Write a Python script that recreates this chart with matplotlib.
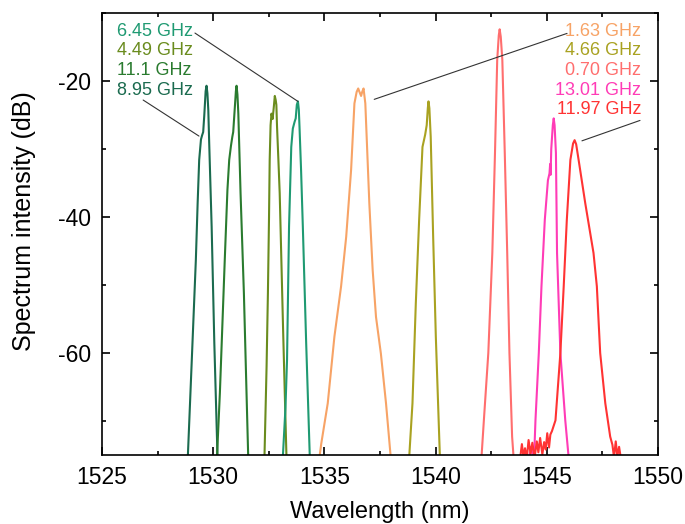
import matplotlib
matplotlib.use("Agg")
import matplotlib.pyplot as plt
from matplotlib.ticker import MultipleLocator

plt.rcParams['font.family'] = ['Liberation Sans', 'DejaVu Sans']
plt.rcParams['axes.unicode_minus'] = False

# Spectra: wavelength (nm) and intensity (dB) for each channel
wl_895 = [1528.85, 1529.05, 1529.22, 1529.30, 1529.37, 1529.45, 1529.50, 1529.55, 1529.60,
          1529.66, 1529.70, 1529.74, 1529.78, 1529.82, 1529.93, 1530.05, 1530.20]
db_895 = [-76, -60, -46.3, -38, -31.6, -28.6, -28.0, -27.5, -25.0,
          -21.5, -20.7, -21.8, -24.3, -29.1, -41.4, -58.5, -76]

wl_111 = [1530.16, 1530.30, 1530.52, 1530.64, 1530.72, 1530.80, 1530.86, 1530.90, 1530.96,
          1531.02, 1531.05, 1531.09, 1531.13, 1531.23, 1531.38, 1531.58]
db_111 = [-76, -65.9, -46.3, -36, -31.6, -29.5, -28.2, -27.5, -24.5,
          -21.5, -20.7, -22.0, -24.8, -36.5, -51.2, -76]

wl_449 = [1532.30, 1532.40, 1532.46, 1532.51, 1532.54, 1532.58, 1532.62, 1532.67, 1532.72,
          1532.77, 1532.81, 1532.84, 1532.87, 1532.93, 1532.99, 1533.14, 1533.30]
db_449 = [-76, -62, -51.2, -40, -31.6, -26.5, -24.8, -25.6, -24.0,
          -22.2, -22.8, -23.5, -26.7, -31.5, -36.5, -56.2, -76]

wl_645 = [1533.12, 1533.25, 1533.32, 1533.41, 1533.51, 1533.58, 1533.66, 1533.71, 1533.76,
          1533.81, 1533.85, 1533.88, 1533.95, 1534.03, 1534.18, 1534.35]
db_645 = [-76, -68, -61.0, -41.4, -29.7, -27.0, -26.0, -25.5, -23.5,
          -23.0, -24.2, -26.7, -33, -41.4, -58.5, -76]

wl_163 = [1534.75, 1534.86, 1535.15, 1535.45, 1535.75, 1535.98, 1536.20, 1536.35, 1536.45,
          1536.52, 1536.60, 1536.65, 1536.70, 1536.76, 1536.84, 1537.02, 1537.17, 1537.32,
          1537.54, 1537.77, 1538.00]
db_163 = [-76, -73.3, -67.4, -57.6, -50.2, -42.9, -33.1, -23.3, -21.6,
          -21.1, -21.8, -22.2, -21.6, -21.1, -23.3, -38.0, -47.8, -54.7,
          -60.1, -67.4, -76]

wl_466 = [1538.80, 1538.96, 1539.11, 1539.26, 1539.41, 1539.53, 1539.60, 1539.65, 1539.68,
          1539.72, 1539.78, 1539.89, 1540.01, 1540.20]
db_466 = [-76, -67.4, -52.7, -40.4, -29.7, -27.9, -26.5, -24.0, -23.0,
          -24.0, -28.2, -42.9, -57.6, -76]

wl_070 = [1542.05, 1542.17, 1542.37, 1542.55, 1542.67, 1542.77, 1542.84, 1542.88, 1542.93,
          1543.00, 1543.11, 1543.22, 1543.32, 1543.44, 1543.52]
db_070 = [-76, -69.9, -60.0, -45.3, -30.6, -16.9, -13.3, -12.4, -13.5,
          -16.9, -30.6, -45.3, -60.0, -72.3, -76]

wl_1301 = [1544.20, 1544.30, 1544.38, 1544.45, 1544.49, 1544.64, 1544.76, 1544.91, 1545.05,
           1545.12, 1545.15, 1545.17, 1545.20, 1545.27, 1545.31, 1545.35, 1545.41, 1545.46,
           1545.61, 1545.83, 1546.00]
db_1301 = [-75.5, -73.8, -75.2, -73.5, -69.9, -60.0, -50.2, -40.4, -34.6,
           -33.6, -32.2, -33.8, -30.0, -26.5, -25.5, -26.5, -30.6, -45.3,
           -60.0, -69.9, -76]

wl_1197 = [1543.80, 1543.88, 1543.95, 1544.02, 1544.10, 1544.18, 1544.27, 1544.35, 1544.45,
           1544.55, 1544.62, 1544.70, 1544.80, 1544.88, 1544.95, 1545.02, 1545.10, 1545.16,
           1545.23, 1545.39, 1545.61, 1545.76, 1545.90, 1546.06, 1546.18, 1546.25, 1546.32,
           1546.43, 1546.73, 1547.10, 1547.25, 1547.40, 1547.63, 1547.85, 1547.95, 1548.02,
           1548.10, 1548.17, 1548.25, 1548.33, 1548.40]
db_1197 = [-75.5, -73.4, -75.3, -74.0, -75.5, -72.8, -74.8, -73.2, -75.4,
           -73.0, -74.6, -72.5, -74.9, -73.1, -74.2, -71.8, -73.9, -72.0,
           -71.5, -69.9, -60.0, -50.2, -40.4, -31.6, -29.2, -28.7, -29.3,
           -31.6, -38.0, -45.3, -50.2, -60.0, -67.4, -72.3, -73.5, -75.3,
           -73.0, -75.2, -73.8, -75.5, -76]

left_labels = ["6.45 GHz", "4.49 GHz", "11.1 GHz", "8.95 GHz"]
right_labels = ["1.63 GHz", "4.66 GHz", "0.70 GHz", "13.01 GHz", "11.97 GHz"]

col_895 = "#1b6b4f"
col_111 = "#2a7b2f"
col_449 = "#6a8c1e"
col_645 = "#1f9a72"
col_163 = "#f7a366"
col_466 = "#a9a221"
col_070 = "#ff6e6e"
col_1301 = "#ff3cb6"
col_1197 = "#ff3333"

fig = plt.figure(figsize=(6.85, 5.24), dpi=100)
ax = fig.add_axes([0.1489, 0.1317, 0.8117, 0.8435])

series = [
    (wl_895, db_895, col_895),
    (wl_111, db_111, col_111),
    (wl_449, db_449, col_449),
    (wl_645, db_645, col_645),
    (wl_163, db_163, col_163),
    (wl_466, db_466, col_466),
    (wl_070, db_070, col_070),
    (wl_1301, db_1301, col_1301),
    (wl_1197, db_1197, col_1197),
]
for wl, db, c in series:
    ax.plot(wl, db, color=c, lw=1.5, solid_joinstyle='round')

ax.set_xlim(1525, 1550)
ax.set_ylim(-75, -10)
ax.xaxis.set_major_locator(MultipleLocator(5))
ax.xaxis.set_minor_locator(MultipleLocator(2.5))
ax.yaxis.set_minor_locator(MultipleLocator(10))
ax.set_yticks([-20, -40, -60])
ax.tick_params(which='both', direction='in', top=True, right=True, width=1.2,
               labelsize=16.5, colors='black')
ax.tick_params(which='major', length=5.5, pad=8)
ax.tick_params(which='minor', length=3)
for sp in ax.spines.values():
    sp.set_linewidth(1.2)

ax.set_xlabel("Wavelength (nm)", fontsize=17)
ax.set_ylabel("Spectrum intensity (dB)", fontsize=18)
ax.xaxis.set_label_coords(0.5, -0.105)
ax.yaxis.set_label_coords(-0.118, 0.53)

# Channel bandwidth labels
left_cols = [col_645, col_449, col_111, col_895]
right_cols = [col_163, col_466, col_070, col_1301, col_1197]
row_y = [-12.65, -15.55, -18.45, -21.35, -24.25]
for txt, c, y in zip(left_labels, left_cols, row_y):
    ax.text(1525.68, y, txt, color=c, fontsize=13, ha='left', va='center')
for txt, c, y in zip(right_labels, right_cols, row_y):
    ax.text(1549.25, y, txt, color=c, fontsize=13, ha='right', va='center')

line_kw = dict(arrowstyle='-', color='#333333', lw=0.8, shrinkA=0, shrinkB=0)
ax.annotate("", xy=(wl_645[9], db_645[9]), xytext=(1529.18, -12.95), arrowprops=line_kw)
ax.annotate("", xy=(1529.36, -28.1), xytext=(1526.85, -22.8), arrowprops=line_kw)
ax.annotate("", xy=(1537.24, -22.7), xytext=(1545.91, -13.0), arrowprops=line_kw)
ax.annotate("", xy=(1546.58, -28.8), xytext=(1549.19, -25.8), arrowprops=line_kw)

fig.savefig("out.png", dpi=100)
